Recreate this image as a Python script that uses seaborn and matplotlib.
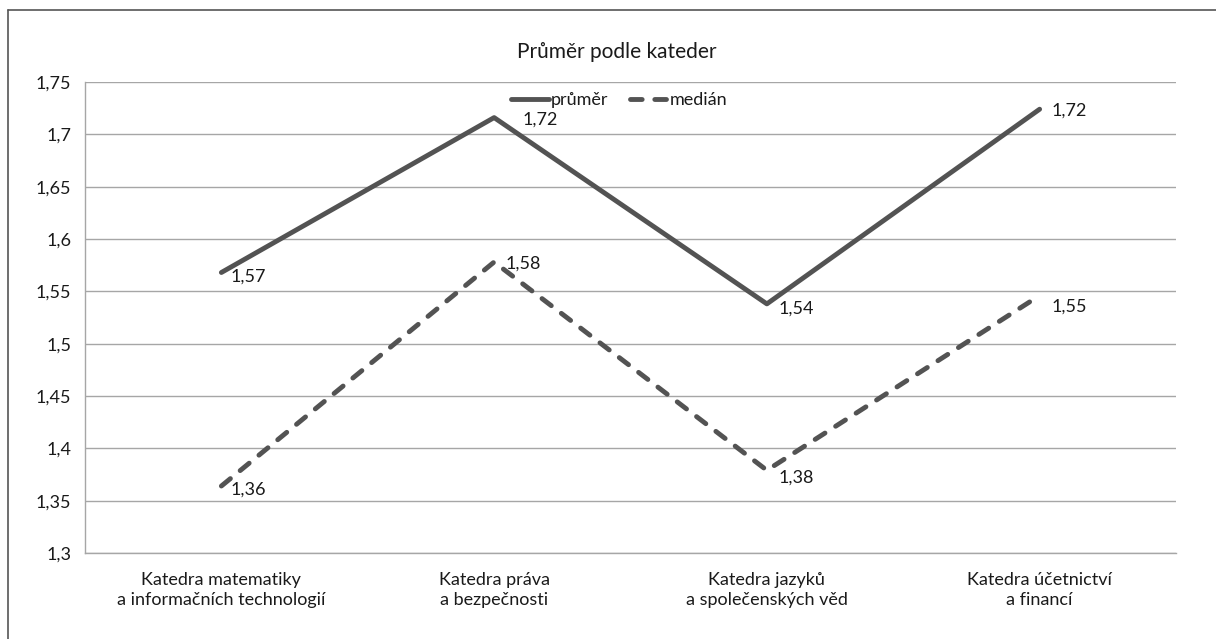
import matplotlib
matplotlib.use("Agg")
import matplotlib.pyplot as plt
from matplotlib.lines import Line2D
from matplotlib.ticker import FixedLocator, FuncFormatter
import seaborn as sns
import pandas as pd

categories = [
    "Katedra matematiky\na informačních technologií",
    "Katedra práva\na bezpečnosti",
    "Katedra jazyků\na společenských věd",
    "Katedra účetnictví\na financí",
]
prumer = [1.568, 1.716, 1.538, 1.724]
median = [1.364, 1.578, 1.379, 1.546]
prumer_labels = ["1,57", "1,72", "1,54", "1,72"]
median_labels = ["1,36", "1,58", "1,38", "1,55"]
series_names = ["průměr", "medián"]
title = "Průměr podle kateder"
y_ticks = [1.3, 1.35, 1.4, 1.45, 1.5, 1.55, 1.6, 1.65, 1.7, 1.75]

sns.set_style("white")
plt.rcParams["font.family"] = ["Lato", "DejaVu Sans"]

FS = 13
TXT = "#1a1a1a"

df = pd.DataFrame({"kat": categories, "prumer": prumer, "median": median})

fig = plt.figure(figsize=(12.16, 6.39), dpi=100)
ax = fig.add_axes([85 / 1216, 1 - 553 / 639, (1176 - 85) / 1216, (553 - 82) / 639])

color = "#535353"
LW = 3.5
sns.lineplot(data=df, x="kat", y="prumer", ax=ax, color=color, linewidth=LW,
             sort=False, label=series_names[0])
sns.lineplot(data=df, x="kat", y="median", ax=ax, color=color, linewidth=LW,
             sort=False, label=series_names[1], linestyle=(0, (2.4, 2.6)))
for ln in ax.lines:
    ln.set_solid_capstyle("round")
    ln.set_dash_capstyle("round")
    ln.set_solid_joinstyle("round")

ax.set_xlim(-0.5, len(categories) - 0.5)
ax.set_ylim(1.3, 1.75)
ax.yaxis.set_major_locator(FixedLocator(y_ticks))
ax.yaxis.set_major_formatter(FuncFormatter(lambda v, p: f"{v:g}".replace(".", ",")))
ax.grid(axis="y", color="#a6a6a6", linewidth=1)
ax.set_axisbelow(True)
ax.set_xlabel("")
ax.set_ylabel("")
for s in ["top", "right"]:
    ax.spines[s].set_visible(False)
for s in ["left", "bottom"]:
    ax.spines[s].set_color("#a6a6a6")
    ax.spines[s].set_linewidth(1)

ax.set_xticks(range(len(categories)))
ax.set_xticklabels(categories, fontsize=FS, color=TXT, linespacing=1.3)
ax.tick_params(axis="x", length=0, pad=14)
ax.set_xticks([i - 0.5 for i in range(len(categories) + 1)], minor=True)
ax.tick_params(axis="x", which="minor", length=5, color="#a6a6a6", width=1, direction="out")
ax.tick_params(axis="y", length=5, color="#a6a6a6", width=1, direction="out",
               labelsize=FS, labelcolor=TXT, pad=5)

offs_p = [(9, -4), (28, -2), (12, -5), (12, -1)]
offs_m = [(9, -4), (11, -2), (12, -7), (12, -11)]
for i in range(len(categories)):
    ax.annotate(prumer_labels[i], (i, prumer[i]), xytext=offs_p[i], textcoords="offset pixels",
                ha="left", va="center", fontsize=FS, color=TXT)
    ax.annotate(median_labels[i], (i, median[i]), xytext=offs_m[i], textcoords="offset pixels",
                ha="left", va="center", fontsize=FS, color=TXT)

leg = ax.legend(loc="center", bbox_to_anchor=(0.490, 0.962), ncol=2, frameon=False,
                fontsize=FS, handlelength=2.1, handletextpad=0.1, columnspacing=1.2,
                borderpad=0, borderaxespad=0)
for t in leg.get_texts():
    t.set_color(TXT)
for h in leg.get_lines():
    h.set_solid_capstyle("round")
    h.set_dash_capstyle("round")

fig.text(617 / 1216, 1 - 52 / 639, title, ha="center", va="center", fontsize=15, color=TXT)

# outer frame (top and left visible)
fig.add_artist(Line2D([8 / 1216, 8 / 1216], [0, 1 - 10 / 639], transform=fig.transFigure,
                      color="#555555", linewidth=1.2))
fig.add_artist(Line2D([8 / 1216, 1], [1 - 10 / 639, 1 - 10 / 639], transform=fig.transFigure,
                      color="#555555", linewidth=1.2))

fig.savefig("out.png", dpi=100)
